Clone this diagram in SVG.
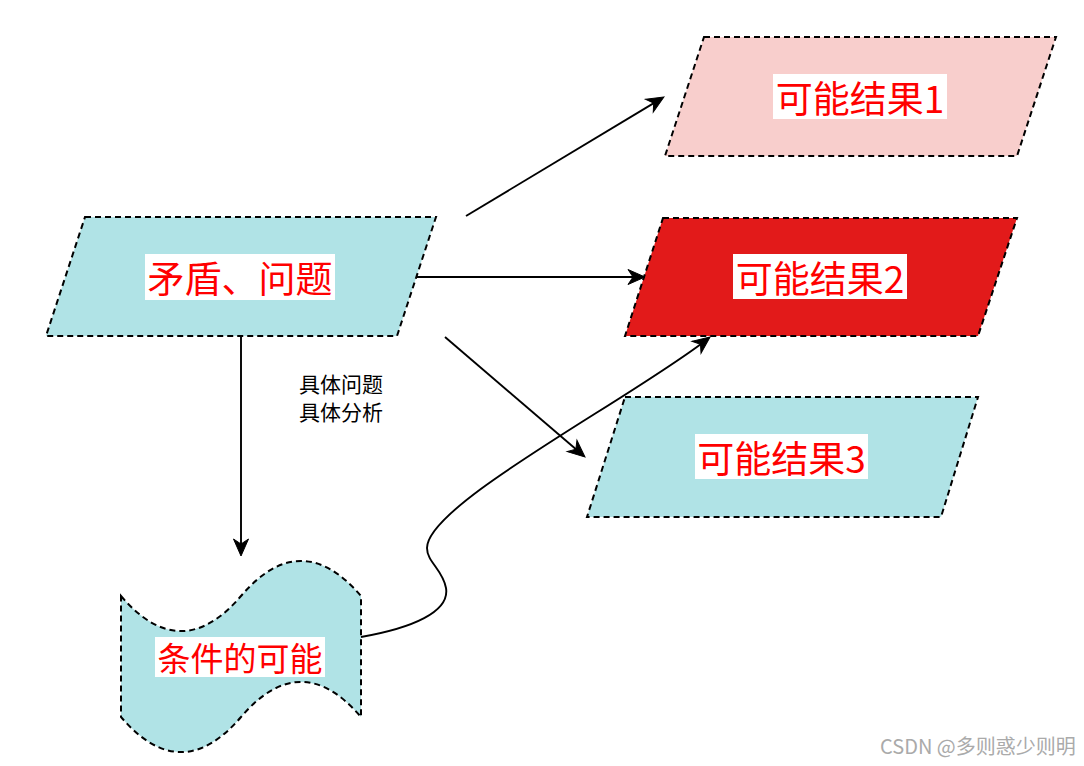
<svg xmlns="http://www.w3.org/2000/svg" width="1084" height="766" viewBox="0 0 1084 766">
<style>
.shape{stroke:#000;stroke-width:2;stroke-dasharray:6 4;}
.cyan{fill:#B0E3E6;}
.pink{fill:#F8CECC;}
.red{fill:#E21A1A;}
.lblbg{fill:#fff;}
.lbl{font-family:"Noto Sans CJK SC","Liberation Sans",sans-serif;fill:#FF0000;text-anchor:middle;dominant-baseline:central;}
.edge{fill:none;stroke:#000;stroke-width:1.9;marker-end:url(#arrow);}
.elbl{font-family:"Noto Sans CJK SC","Liberation Sans",sans-serif;font-size:21px;fill:#000;text-anchor:middle;}
</style>
<defs>
<marker id="arrow" markerUnits="userSpaceOnUse" markerWidth="30" markerHeight="30" viewBox="-15 -15 30 30" refX="0" refY="0" orient="auto" overflow="visible">
<path d="M8,0 L-9,-7.5 L-4,0 L-9,7.5 Z" fill="#000" stroke="#000" stroke-width="1"/>
</marker>
</defs>
<rect width="1084" height="766" fill="#fff"/>
<g id="node-problem">
<polygon class="shape cyan" points="85,217 436,217 397,336 46,336"/>
<rect class="lblbg" x="145" y="254" width="190" height="46"/>
<text class="lbl" x="240" y="277" font-size="37">矛盾、问题</text>
</g>
<g id="node-result1">
<polygon class="shape pink" points="704,37 1056,37 1017,156 665,156"/>
<rect class="lblbg" x="773" y="74" width="174" height="45"/>
<text class="lbl" x="860" y="96.5" font-size="37">可能结果1</text>
</g>
<g id="node-result2">
<polygon class="shape red" points="663,218 1017,218 978,336 625,336"/>
<rect class="lblbg" x="733" y="254" width="174" height="45"/>
<text class="lbl" x="820" y="276.5" font-size="37">可能结果2</text>
</g>
<g id="node-result3">
<polygon class="shape cyan" points="625,397 978,397 941,517 587,517"/>
<rect class="lblbg" x="695" y="434" width="173" height="45"/>
<text class="lbl" x="781.5" y="456.5" font-size="37">可能结果3</text>
</g>
<g id="node-condition">
<path class="shape cyan" d="M121,596 Q181,666.2 241,596 Q301,525.8 361,596 L361,717 Q301,646.8 241,717 Q181,787.2 121,717 Z"/>
<rect class="lblbg" x="155" y="637" width="170" height="40"/>
<text class="lbl" x="240" y="657" font-size="33">条件的可能</text>
</g>
<g id="connectors">
<path class="edge" d="M466,216 L657.1,101.1"/>
<path class="edge" d="M417,277 L637,277"/>
<path class="edge" d="M445,337 L578.9,451.8"/>
<path class="edge" d="M241,337 L241,548"/>
<path class="edge" d="M361,637 C412,628 450,612 446,588 C443,570 427,562 427,548 C427,505 620,405 703.7,341.9"/>
<text class="elbl" x="341" y="392"><tspan x="341" y="392">具体问题</tspan><tspan x="341" y="419.5">具体分析</tspan></text>
</g>
<text x="880" y="754" font-family="'Noto Sans CJK SC','Liberation Sans',sans-serif" font-size="20" fill="#AAAAAA">CSDN @多则惑少则明</text>
</svg>
